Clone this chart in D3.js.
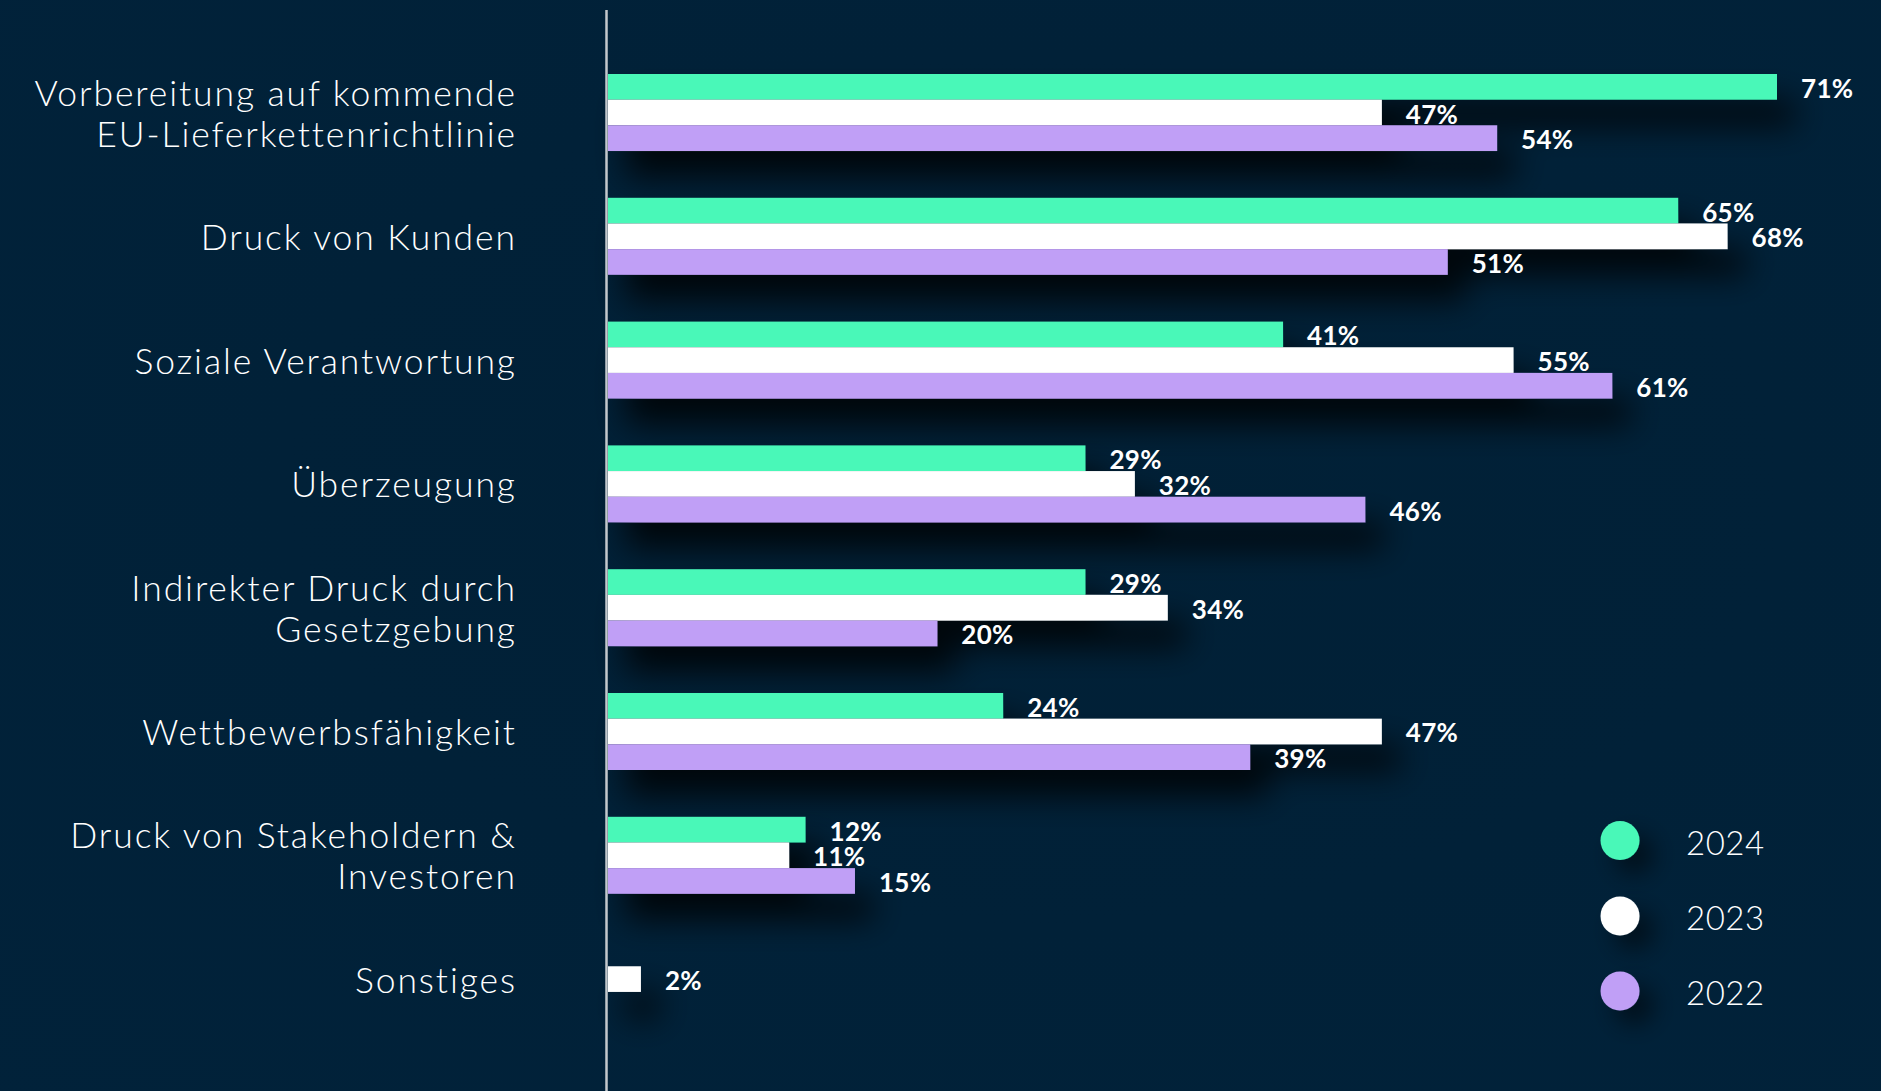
<!DOCTYPE html>
<html>
<head>
<meta charset="utf-8">
<script src="https://cdn.jsdelivr.net/npm/d3@7"></script>
<style>
  html, body { margin: 0; padding: 0; background: #01213a; }
  svg { display: block; }
</style>
</head>
<body>
<svg id="chart" width="1881" height="1091"></svg>
<script>
const categories = [
  "Vorbereitung auf kommende\nEU-Lieferkettenrichtlinie",
  "Druck von Kunden",
  "Soziale Verantwortung",
  "Überzeugung",
  "Indirekter Druck durch\nGesetzgebung",
  "Wettbewerbsfähigkeit",
  "Druck von Stakeholdern &\nInvestoren",
  "Sonstiges"
];
const seriesNames = ["2024", "2023", "2022"];
const values2024 = [71, 65, 41, 29, 29, 24, 12, null];
const values2023 = [47, 68, 55, 32, 34, 47, 11, 2];
const values2022 = [54, 51, 61, 46, 20, 39, 15, null];
const seriesColors = ["#48f8b8", "#ffffff", "#c09ff6"];

const seriesValues = [values2024, values2023, values2022];

const svg = d3.select("#chart");
const W = 1881, H = 1091;

const defs = svg.append("defs");
const bg = defs.append("radialGradient").attr("id", "bgGrad")
  .attr("cx", "0.55").attr("cy", "0.45").attr("r", "0.8");
bg.append("stop").attr("offset", "0").attr("stop-color", "#012036");
bg.append("stop").attr("offset", "1").attr("stop-color", "#01223a");
svg.append("rect").attr("width", W).attr("height", H).attr("fill", "url(#bgGrad)");

const shadow = defs.append("filter").attr("id", "shadow")
  .attr("filterUnits", "userSpaceOnUse")
  .attr("x", 0).attr("y", -200).attr("width", W).attr("height", 600);
shadow.append("feDropShadow").attr("dx", 18).attr("dy", 26)
  .attr("stdDeviation", 16).attr("flood-color", "#000000").attr("flood-opacity", 0.8);

const lshadow = defs.append("filter").attr("id", "lshadow")
  .attr("x", "-100%").attr("y", "-100%").attr("width", "400%").attr("height", "400%");
lshadow.append("feDropShadow").attr("dx", 14).attr("dy", 14)
  .attr("stdDeviation", 12).attr("flood-color", "#000000").attr("flood-opacity", 0.55);

const x = d3.scaleLinear().domain([0, 71]).range([608, 1777]);
const y = d3.scaleBand().domain(categories).range([74, 1017.6]).paddingInner(0.378).paddingOuter(0);
const sub = d3.scaleBand().domain(seriesNames).range([0, y.bandwidth()]).padding(0);

const groups = svg.append("g").selectAll("g.grp")
  .data(categories).join("g").attr("class", "grp")
  .attr("transform", d => `translate(0,${y(d)})`)
  .attr("filter", "url(#shadow)");

groups.each(function(cat, i) {
  const g = d3.select(this);
  seriesNames.forEach((s, j) => {
    const v = seriesValues[j][i];
    if (v == null) return;
    g.append("rect")
      .attr("x", x(0))
      .attr("y", sub(s))
      .attr("width", x(v) - x(0))
      .attr("height", sub.bandwidth())
      .attr("fill", seriesColors[j]);
  });
});

const labels = svg.append("g");
categories.forEach((cat, i) => {
  seriesNames.forEach((s, j) => {
    const v = seriesValues[j][i];
    if (v == null) return;
    labels.append("text")
      .attr("x", x(v) + 24)
      .attr("y", y(cat) + sub(s) + sub.bandwidth() / 2 + 1)
      .attr("dominant-baseline", "central")
      .attr("font-family", "Lato, sans-serif")
      .attr("font-weight", 700)
      .attr("font-size", 26)
      .attr("letter-spacing", 0.3)
      .attr("fill", "#ffffff")
      .text(v + "%");
  });
});

svg.append("line")
  .attr("x1", 606.5).attr("x2", 606.5)
  .attr("y1", 10).attr("y2", H)
  .attr("stroke", "#c3c8cc").attr("stroke-width", 2.5);

const yAxis = svg.append("g");
const catLS = 1.9;
categories.forEach(cat => {
  const lines = cat.split("\n");
  const cy = y(cat) + y.bandwidth() / 2;
  const lh = 41;
  const t = yAxis.append("text")
    .attr("text-anchor", "end")
    .attr("font-family", "Lato, sans-serif")
    .attr("font-weight", 300)
    .attr("font-size", 35.5)
    .attr("letter-spacing", catLS)
    .attr("fill", "#ffffff");
  lines.forEach((ln, k) => {
    t.append("tspan")
      .attr("x", 515 + catLS)
      .attr("y", cy + (k - (lines.length - 1) / 2) * lh)
      .attr("dominant-baseline", "central")
      .text(ln);
  });
});

const legend = svg.append("g");
const legY = [840.5, 916, 991];
seriesNames.forEach((s, j) => {
  legend.append("circle")
    .attr("cx", 1620).attr("cy", legY[j]).attr("r", 19.5)
    .attr("fill", seriesColors[j])
    .attr("filter", "url(#lshadow)");
  legend.append("text")
    .attr("x", 1686).attr("y", legY[j] + 1)
    .attr("dominant-baseline", "central")
    .attr("font-family", "Lato, sans-serif")
    .attr("font-weight", 300)
    .attr("font-size", 33)
    .attr("letter-spacing", 0.5)
    .attr("fill", "#ffffff")
    .text(s);
});
</script>
</body>
</html>
